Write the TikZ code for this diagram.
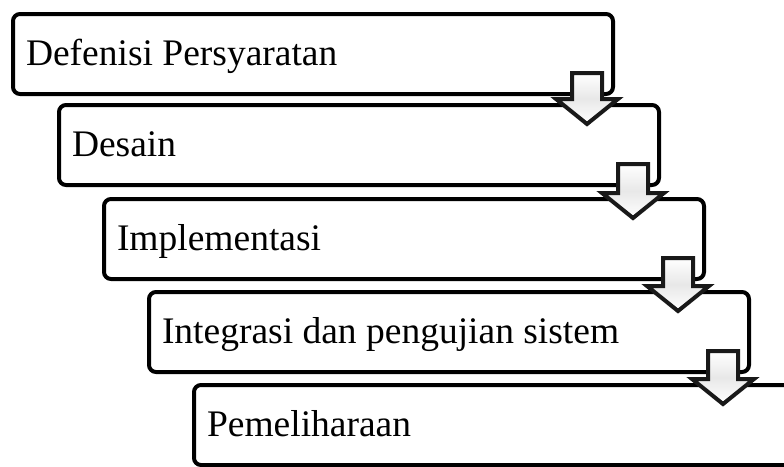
\documentclass[tikz,border=0pt]{standalone}
\usepackage{fontspec}
\setmainfont{Liberation Serif}
\usetikzlibrary{calc}

\tikzset{
    tahap/.style={draw, line width=4pt, rounded corners=7pt, anchor=north west,
        outer sep=0pt, minimum height=80pt, text width=574pt, align=flush left,
        inner xsep=13pt, inner ysep=0pt, text height=30pt, text depth=8pt,
        font=\fontsize{37.5}{44}\selectfont},
    panah/.style={draw=black!90, line width=4pt, miter limit=10,
        top color=white, bottom color=white, middle color=black!9}
}

% panah blok dari tahap #1 ke tahap #2
\newcommand{\panahtahap}[2]{%
    \coordinate (atas) at ($(#1.south east)+(-26,-21)$);
    \coordinate (ujung) at ($(atas |- #2.north)+(0,19)$);
    \draw[panah] ($(atas)+(-15,0)$) -- ($(atas)+(15,0)$) -- ($(ujung)+(15,-25)$)
        -- ($(ujung)+(31,-25)$) -- (ujung) -- ($(ujung)+(-31,-25)$)
        -- ($(ujung)+(-15,-25)$) -- cycle;
}

\begin{document}
\begin{tikzpicture}[x=1pt, y=-1pt]
    \useasboundingbox (0,0) rectangle (784,466);
    \clip (0,0) rectangle (784,466);

    % Tahapan (bertingkat)
    \node[tahap] (req) at (13,14) {Defenisi Persyaratan};
    \node[tahap] (desain) at (59,105) {Desain};
    \node[tahap] (impl) at (104,199) {Implementasi};
    \node[tahap] (integ) at (149,292) {Integrasi dan pengujian sistem};
    \node[tahap] (pelihara) at (194,385) {Pemeliharaan};

    % Panah antar tahap
    \panahtahap{req}{desain}
    \panahtahap{desain}{impl}
    \panahtahap{impl}{integ}
    \panahtahap{integ}{pelihara}
\end{tikzpicture}
\end{document}
